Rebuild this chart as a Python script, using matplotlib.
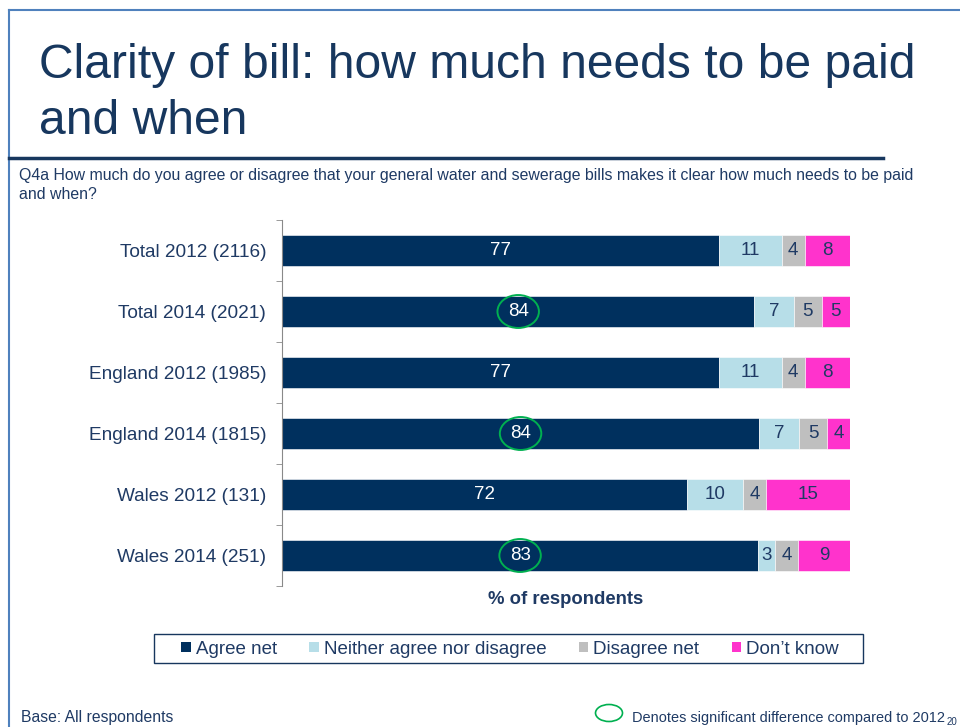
import numpy as np
import matplotlib
matplotlib.use('Agg')
import matplotlib.pyplot as plt
from matplotlib.patches import Patch, Ellipse, Rectangle
from matplotlib.lines import Line2D

plt.rcParams['font.family'] = ['Liberation Sans', 'DejaVu Sans']

# data
groups = ['Total 2012 (2116)', 'Total 2014 (2021)', 'England 2012 (1985)',
          'England 2014 (1815)', 'Wales 2012 (131)', 'Wales 2014 (251)']
agree = [77, 84, 77, 84, 72, 83]
neither = [11, 7, 11, 7, 10, 3]
disagree = [4, 5, 4, 5, 4, 4]
dont_know = [8, 5, 8, 4, 15, 9]
significant = [False, True, False, True, False, True]
series_names = ['Agree net', 'Neither agree nor disagree', 'Disagree net', 'Don\u2019t know']

colors = ['#00305e', '#b7dee8', '#bfbfbf', '#ff33cc']
label_colors = ['white', '#1f3a64', '#1f3a64', '#1f3a64']
navy = '#17375e'
txt = '#1f3a64'

W, H = 960, 727
fig = plt.figure(figsize=(W / 100, H / 100), dpi=100)


def fx(x):
    return x / W


def fy(y):
    return 1 - y / H


# slide frame
fig.add_artist(Line2D([fx(9), fx(9)], [fy(10), fy(727)], color='#4f81bd', lw=1.5))
fig.add_artist(Line2D([fx(9), fx(960)], [fy(10), fy(10)], color='#4f81bd', lw=1.5))
fig.add_artist(Line2D([fx(9), fx(883)], [fy(158), fy(158)], color=navy, lw=2.5))

# title
fig.text(fx(39), fy(78), 'Clarity of bill: how much needs to be paid', fontsize=34.6,
         color=navy, va='baseline')
fig.text(fx(39), fy(134), 'and when', fontsize=34.6, color=navy, va='baseline')
fig.text(fx(19), fy(180), 'Q4a How much do you agree or disagree that your general water and '
         'sewerage bills makes it clear how much needs to be paid', fontsize=11.4,
         color=txt, va='baseline')
fig.text(fx(19), fy(199), 'and when?', fontsize=11.4, color=txt, va='baseline')

# chart
ax = fig.add_axes([fx(282), fy(586), (850 - 282) / W, (586 - 220) / H])
data = np.array([agree, neither, disagree, dont_know], dtype=float)
totals = data.sum(axis=0)
share = data / totals * 100
y = np.arange(len(groups))
left = np.zeros(len(groups))
for k in range(4):
    ax.barh(y, share[k], left=left, height=0.5, color=colors[k],
            edgecolor='white', linewidth=0.4)
    for i in range(len(groups)):
        ax.text(left[i] + share[k][i] / 2, y[i], str(int(data[k][i])),
                ha='center', va='center', fontsize=13.5, color=label_colors[k])
    left += share[k]

for i in range(len(groups)):
    if significant[i]:
        ax.add_patch(Ellipse((share[0][i] / 2, y[i]), 7.3, 0.54, fill=False,
                             edgecolor='#00b050', lw=1.4))

ax.set_xlim(0, 100)
ax.set_ylim(len(groups) - 0.5, -0.5)
ax.set_yticks(y)
ax.set_yticklabels(groups, fontsize=13.7, color=txt)
ax.set_yticks(np.arange(-0.5, len(groups), 1), minor=True)
ax.tick_params(axis='y', which='major', length=0, pad=11.5)
ax.tick_params(axis='y', which='minor', length=4, color='#898989', direction='out')
ax.set_xticks([])
for s in ['top', 'right', 'bottom']:
    ax.spines[s].set_visible(False)
ax.spines['left'].set_color('#898989')

fig.text(fx(566), fy(600), '% of respondents', fontsize=13.3, fontweight='bold',
         color=txt, ha='center', va='center')

# legend
fig.add_artist(Rectangle((fx(154), fy(663)), (863 - 154) / W, (663 - 634) / H,
                         transform=fig.transFigure, fill=False, edgecolor=navy, lw=1))
handles = [Patch(facecolor=c) for c in colors]
fig.legend(handles, series_names, loc='center', bbox_to_anchor=(fx(510), fy(649)),
           ncol=4, frameon=False, fontsize=13.5, handlelength=0.5, handleheight=0.5,
           handletextpad=0.25, columnspacing=1.75, labelcolor=txt)

# footer
fig.text(fx(21), fy(722), 'Base: All respondents', fontsize=11.3, color=txt, va='baseline')
fig.add_artist(Ellipse((fx(609), fy(713)), 27 / W, 17 / H, transform=fig.transFigure,
                       fill=False, edgecolor='#00b050', lw=1.2))
fig.text(fx(632), fy(722), 'Denotes significant difference compared to 2012',
         fontsize=10.45, color=txt, va='baseline')
fig.text(fx(947), fy(725), '20', fontsize=7, color=txt, va='baseline')

fig.savefig('out.png', dpi=100)
